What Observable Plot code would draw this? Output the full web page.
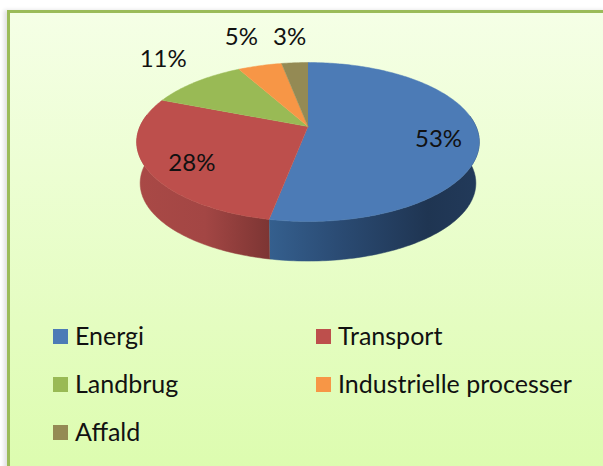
<!DOCTYPE html>
<html><head><meta charset="utf-8">
<script src="https://cdn.jsdelivr.net/npm/d3@7"></script>
<script src="https://cdn.jsdelivr.net/npm/@observablehq/plot@0.6"></script>
<style>
html,body{margin:0;padding:0;background:#fff;overflow:hidden}
#card{position:absolute;left:7px;top:10px;width:600px;height:470px;box-sizing:border-box;border:3px solid #9bbb59;background:linear-gradient(#f5ffe6,#dcfcae);box-shadow:-3px 0 4px rgba(0,0,0,.12)}
#chart{position:absolute;left:0;top:0}
svg{background:transparent!important}
</style></head><body>
<div id="card"></div><div id="chart"></div>
<script>
const categories = ["Energi","Transport","Landbrug","Industrielle processer","Affald"];
const values = [53,28,11,5,3];
const labels = ["53%","28%","11%","5%","3%"];
const colors = ["#4c7bb6","#bd4f4c","#99ba55","#f79646","#948a54"];
const labelRadius = [0.77,0.77,1.48,1.59,1.51];
const labelTurn = [7,-6,4,1,0];

const W=603,H=466;
// perspective disc
const cx=307.5,cy=126,R=168,persp=-0.195,tilt=51.9,startTurn=0,depth=41.5,shrink=0.98;
const rad=d=>d*Math.PI/180;
function project(deg,r=1,bottom=false){
  const u=r*Math.sin(rad(deg)),v=-r*Math.cos(rad(deg)),d=1+persp*v;
  let x=R*u/d,y=(tilt*v+cy)/d-cy;
  if(bottom){x*=shrink;y=y*shrink+depth;}
  return {x:cx+x,y:cy+y};
}
const total=d3.sum(values);
let acc=startTurn;
const slices=values.map((v,i)=>{const a0=acc,a1=acc+v/total*360;acc=a1;return {i,a0,a1,name:categories[i],color:colors[i],label:labels[i]};});

const topFace=[];
slices.forEach(s=>{
  topFace.push({s:s.i,...project(s.a0,0),color:s.color});
  for(let a=s.a0;a<=s.a1;a+=1)topFace.push({s:s.i,...project(a),color:s.color});
  topFace.push({s:s.i,...project(s.a1),color:s.color});
});
// side wall: visible front arc of every slice
const arcFrom=82,arcTo=279;
const side=[];
slices.forEach(s=>{
  const a0=Math.max(s.a0,arcFrom),a1=Math.min(s.a1,arcTo);
  if(a1<=a0)return;
  const ring=d3.range(a0,a1,1).concat(a1);
  const g=s.i===0?"url(#sideBlue)":"url(#sideRed)";
  ring.forEach(a=>side.push({s:s.i,...project(a),g}));
  ring.slice().reverse().forEach(a=>side.push({s:s.i,...project(a,1,true),g}));
});
const labelPts=slices.map((s,i)=>({...project((s.a0+s.a1)/2+labelTurn[i],labelRadius[i]),label:s.label}));

const legendCol=[53,316],legendRow=[329,377,425],swatch=15;
const legend=categories.map((name,i)=>{
  const x=legendCol[i%2],y=legendRow[Math.floor(i/2)];
  return {name,color:colors[i],x,y,xs:x+swatch,ys:y+swatch,tx:x+21.5,ty:y+7.5};
});

function defs(){
  const d=d3.create("svg:defs");
  const grad=(id,stops)=>{
    const g=d.append("linearGradient").attr("id",id).attr("gradientUnits","userSpaceOnUse")
      .attr("x1",136).attr("x2",479).attr("y1",0).attr("y2",0);
    stops.forEach(([o,c])=>g.append("stop").attr("offset",o).attr("stop-color",c));
  };
  grad("sideBlue",[[0.38,"#35608f"],[0.6,"#2a4a72"],[0.85,"#1f3552"],[1,"#223a5a"]]);
  grad("sideRed",[[0,"#a94946"],[0.2,"#a34644"],[0.39,"#7c3533"]]);
  return d.node();
}

const plot=Plot.plot({
  width:W,height:H,margin:0,
  x:{domain:[0,W],range:[0,W],axis:null},
  y:{domain:[0,H],range:[0,H],axis:null},
  style:{background:"transparent"},
  marks:[
    defs,
    Plot.line(side,{x:"x",y:"y",z:"s",fill:"g",stroke:"g",strokeWidth:0.5,curve:"linear"}),
    Plot.line(topFace,{x:"x",y:"y",z:"s",fill:"color",stroke:"color",strokeWidth:0.5,curve:"linear"}),
    Plot.text(labelPts,{x:"x",y:"y",text:"label",fontSize:24,fontFamily:"Lato",fill:"#111"}),
    Plot.rect(legend,{x1:"x",x2:"xs",y1:"y",y2:"ys",fill:"color"}),
    Plot.text(legend,{x:"tx",y:"ty",text:"name",textAnchor:"start",fontSize:25,fontFamily:"Lato",fill:"#111"})
  ]
});
document.getElementById("chart").append(plot);
</script></body></html>
